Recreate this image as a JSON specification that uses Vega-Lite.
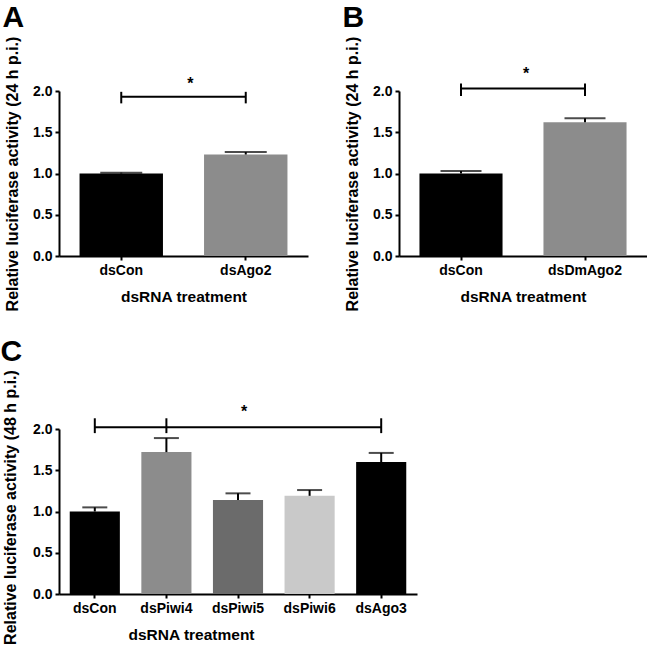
{
  "$schema": "https://vega.github.io/schema/vega-lite/v6.json",
  "padding": {"left": 0, "top": 3, "right": 0, "bottom": 0},
  "background": "white",
  "config": {
    "font": "Liberation Sans",
    "view": {"stroke": null},
    "axis": {"domainColor": "black", "domainWidth": 2, "tickColor": "black", "tickWidth": 2, "tickSize": 4, "labelFont": "Liberation Sans", "labelFontSize": 14, "labelFontWeight": "bold", "labelColor": "black", "titleFont": "Liberation Sans", "titleFontSize": 16, "titleFontWeight": "bold", "titleColor": "black", "grid": false, "labelPadding": 3},
    "axisX": {"labelAngle": 0, "titlePadding": 12, "titleFontSize": 15.5},
    "axisY": {"titlePadding": 12, "values": [0, 0.5, 1, 1.5, 2], "format": ".1f"},
    "title": {"font": "Liberation Sans", "fontSize": 30, "fontWeight": "bold", "anchor": "start", "color": "black", "frame": "bounds", "offset": 3, "dx": -2}
  },
  "resolve": {"scale": {"color": "independent"}},
  "vconcat": [
    {
      "resolve": {"scale": {"color": "independent"}},
      "hconcat": [
        {
          "title": {"text": "A"},
          "width": 249,
          "height": 165,
          "layer": [
            {
              "data": {"values": [
                {"group": "dsCon", "mean": 1.0, "upper": 1.01},
                {"group": "dsAgo2", "mean": 1.23, "upper": 1.26}
              ]},
              "layer": [
                {
                  "mark": {"type": "bar"},
                  "encoding": {
                    "x": {"field": "group", "type": "nominal", "title": "dsRNA treatment", "scale": {"domain": ["dsCon", "dsAgo2"], "paddingInner": 0.33, "paddingOuter": 0.165}},
                    "y": {"field": "mean", "type": "quantitative", "title": "Relative luciferase activity (24 h p.i.)", "scale": {"domain": [0, 2]}},
                    "color": {"field": "group", "type": "nominal", "legend": null, "scale": {"domain": ["dsCon", "dsAgo2"], "range": ["#000000", "#8c8c8c"]}}
                  }
                },
                {
                  "mark": {"type": "rule", "color": "black", "strokeWidth": 2},
                  "encoding": {
                    "x": {"field": "group", "type": "nominal", "title": "dsRNA treatment"},
                    "y": {"field": "mean", "type": "quantitative", "title": "Relative luciferase activity (24 h p.i.)"},
                    "y2": {"field": "upper"}
                  }
                },
                {
                  "mark": {"type": "tick", "color": "black", "thickness": 2, "size": 42},
                  "encoding": {
                    "x": {"field": "group", "type": "nominal", "title": "dsRNA treatment"},
                    "y": {"field": "upper", "type": "quantitative", "title": "Relative luciferase activity (24 h p.i.)"}
                  }
                }
              ]
            },
            {
              "data": {"values": [{"group": "dsCon", "group2": "dsAgo2", "y": 1.93}]},
              "mark": {"type": "rule", "color": "black", "strokeWidth": 2},
              "encoding": {
                "x": {"field": "group", "type": "nominal", "title": "dsRNA treatment"},
                "x2": {"field": "group2"},
                "y": {"field": "y", "type": "quantitative", "title": "Relative luciferase activity (24 h p.i.)"}
              }
            },
            {
              "data": {"values": [{"group": "dsCon", "lo": 1.85, "hi": 1.99}, {"group": "dsAgo2", "lo": 1.85, "hi": 1.99}]},
              "mark": {"type": "rule", "color": "black", "strokeWidth": 2},
              "encoding": {
                "x": {"field": "group", "type": "nominal", "title": "dsRNA treatment"},
                "y": {"field": "lo", "type": "quantitative", "title": "Relative luciferase activity (24 h p.i.)"},
                "y2": {"field": "hi"}
              }
            },
            {
              "data": {"values": [{"group": "dsCon", "y": 2.08, "label": "*"}]},
              "mark": {"type": "text", "fontSize": 16, "fontWeight": "bold", "dx": 69, "baseline": "middle", "color": "black"},
              "encoding": {
                "x": {"field": "group", "type": "nominal", "title": "dsRNA treatment"},
                "y": {"field": "y", "type": "quantitative", "title": "Relative luciferase activity (24 h p.i.)"},
                "text": {"field": "label"}
              }
            }
          ]
        },
        {
          "title": {"text": "B"},
          "width": 248,
          "height": 165,
          "layer": [
            {
              "data": {"values": [
                {"group": "dsCon", "mean": 1.0, "upper": 1.03},
                {"group": "dsDmAgo2", "mean": 1.62, "upper": 1.67}
              ]},
              "layer": [
                {
                  "mark": {"type": "bar"},
                  "encoding": {
                    "x": {"field": "group", "type": "nominal", "title": "dsRNA treatment", "scale": {"domain": ["dsCon", "dsDmAgo2"], "paddingInner": 0.33, "paddingOuter": 0.165}},
                    "y": {"field": "mean", "type": "quantitative", "title": "Relative luciferase activity (24 h p.i.)", "scale": {"domain": [0, 2]}},
                    "color": {"field": "group", "type": "nominal", "legend": null, "scale": {"domain": ["dsCon", "dsDmAgo2"], "range": ["#000000", "#8c8c8c"]}}
                  }
                },
                {
                  "mark": {"type": "rule", "color": "black", "strokeWidth": 2},
                  "encoding": {
                    "x": {"field": "group", "type": "nominal", "title": "dsRNA treatment"},
                    "y": {"field": "mean", "type": "quantitative", "title": "Relative luciferase activity (24 h p.i.)"},
                    "y2": {"field": "upper"}
                  }
                },
                {
                  "mark": {"type": "tick", "color": "black", "thickness": 2, "size": 41},
                  "encoding": {
                    "x": {"field": "group", "type": "nominal", "title": "dsRNA treatment"},
                    "y": {"field": "upper", "type": "quantitative", "title": "Relative luciferase activity (24 h p.i.)"}
                  }
                }
              ]
            },
            {
              "data": {"values": [{"group": "dsCon", "group2": "dsDmAgo2", "y": 2.03}]},
              "mark": {"type": "rule", "color": "black", "strokeWidth": 2},
              "encoding": {
                "x": {"field": "group", "type": "nominal", "title": "dsRNA treatment"},
                "x2": {"field": "group2"},
                "y": {"field": "y", "type": "quantitative", "title": "Relative luciferase activity (24 h p.i.)"}
              }
            },
            {
              "data": {"values": [{"group": "dsCon", "lo": 1.94, "hi": 2.09}, {"group": "dsDmAgo2", "lo": 1.94, "hi": 2.09}]},
              "mark": {"type": "rule", "color": "black", "strokeWidth": 2},
              "encoding": {
                "x": {"field": "group", "type": "nominal", "title": "dsRNA treatment"},
                "y": {"field": "lo", "type": "quantitative", "title": "Relative luciferase activity (24 h p.i.)"},
                "y2": {"field": "hi"}
              }
            },
            {
              "data": {"values": [{"group": "dsCon", "y": 2.21, "label": "*"}]},
              "mark": {"type": "text", "fontSize": 16, "fontWeight": "bold", "dx": 65, "baseline": "middle", "color": "black"},
              "encoding": {
                "x": {"field": "group", "type": "nominal", "title": "dsRNA treatment"},
                "y": {"field": "y", "type": "quantitative", "title": "Relative luciferase activity (24 h p.i.)"},
                "text": {"field": "label"}
              }
            }
          ]
        }
      ],
      "spacing": 34
    },
    {
      "title": {"text": "C"},
      "width": 358,
      "height": 165,
      "layer": [
        {
          "data": {"values": [
            {"group": "dsCon", "mean": 1.0, "upper": 1.05},
            {"group": "dsPiwi4", "mean": 1.72, "upper": 1.89},
            {"group": "dsPiwi5", "mean": 1.14, "upper": 1.22},
            {"group": "dsPiwi6", "mean": 1.19, "upper": 1.26},
            {"group": "dsAgo3", "mean": 1.6, "upper": 1.71}
          ]},
          "layer": [
            {
              "mark": {"type": "bar"},
              "encoding": {
                "x": {"field": "group", "type": "nominal", "title": "dsRNA treatment", "axis": {"titleX": 132}, "scale": {"domain": ["dsCon", "dsPiwi4", "dsPiwi5", "dsPiwi6", "dsAgo3"], "paddingInner": 0.3, "paddingOuter": 0.15}},
                "y": {"field": "mean", "type": "quantitative", "title": "Relative luciferase activity (48 h p.i.)", "axis": {"titlePadding": 14, "titleY": 78}, "scale": {"domain": [0, 2]}},
                "color": {"field": "group", "type": "nominal", "legend": null, "scale": {"domain": ["dsCon", "dsPiwi4", "dsPiwi5", "dsPiwi6", "dsAgo3"], "range": ["#000000", "#8c8c8c", "#6b6b6b", "#c9c9c9", "#000000"]}}
              }
            },
            {
              "mark": {"type": "rule", "color": "black", "strokeWidth": 2},
              "encoding": {
                "x": {"field": "group", "type": "nominal", "title": "dsRNA treatment"},
                "y": {"field": "mean", "type": "quantitative", "title": "Relative luciferase activity (48 h p.i.)"},
                "y2": {"field": "upper"}
              }
            },
            {
              "mark": {"type": "tick", "color": "black", "thickness": 2, "size": 25},
              "encoding": {
                "x": {"field": "group", "type": "nominal", "title": "dsRNA treatment"},
                "y": {"field": "upper", "type": "quantitative", "title": "Relative luciferase activity (48 h p.i.)"}
              }
            }
          ]
        },
        {
          "data": {"values": [{"group": "dsCon", "group2": "dsAgo3", "y": 2.02}]},
          "mark": {"type": "rule", "color": "black", "strokeWidth": 2},
          "encoding": {
            "x": {"field": "group", "type": "nominal", "title": "dsRNA treatment"},
            "x2": {"field": "group2"},
            "y": {"field": "y", "type": "quantitative", "title": "Relative luciferase activity (48 h p.i.)"}
          }
        },
        {
          "data": {"values": [{"group": "dsCon", "lo": 1.95, "hi": 2.13}, {"group": "dsPiwi4", "lo": 1.95, "hi": 2.13}, {"group": "dsAgo3", "lo": 1.95, "hi": 2.13}]},
          "mark": {"type": "rule", "color": "black", "strokeWidth": 2},
          "encoding": {
            "x": {"field": "group", "type": "nominal", "title": "dsRNA treatment"},
            "y": {"field": "lo", "type": "quantitative", "title": "Relative luciferase activity (48 h p.i.)"},
            "y2": {"field": "hi"}
          }
        },
        {
          "data": {"values": [{"group": "dsPiwi5", "y": 2.21, "label": "*"}]},
          "mark": {"type": "text", "fontSize": 16, "fontWeight": "bold", "dx": 6, "baseline": "middle", "color": "black"},
          "encoding": {
            "x": {"field": "group", "type": "nominal", "title": "dsRNA treatment"},
            "y": {"field": "y", "type": "quantitative", "title": "Relative luciferase activity (48 h p.i.)"},
            "text": {"field": "label"}
          }
        }
      ]
    }
  ],
  "spacing": 25
}
